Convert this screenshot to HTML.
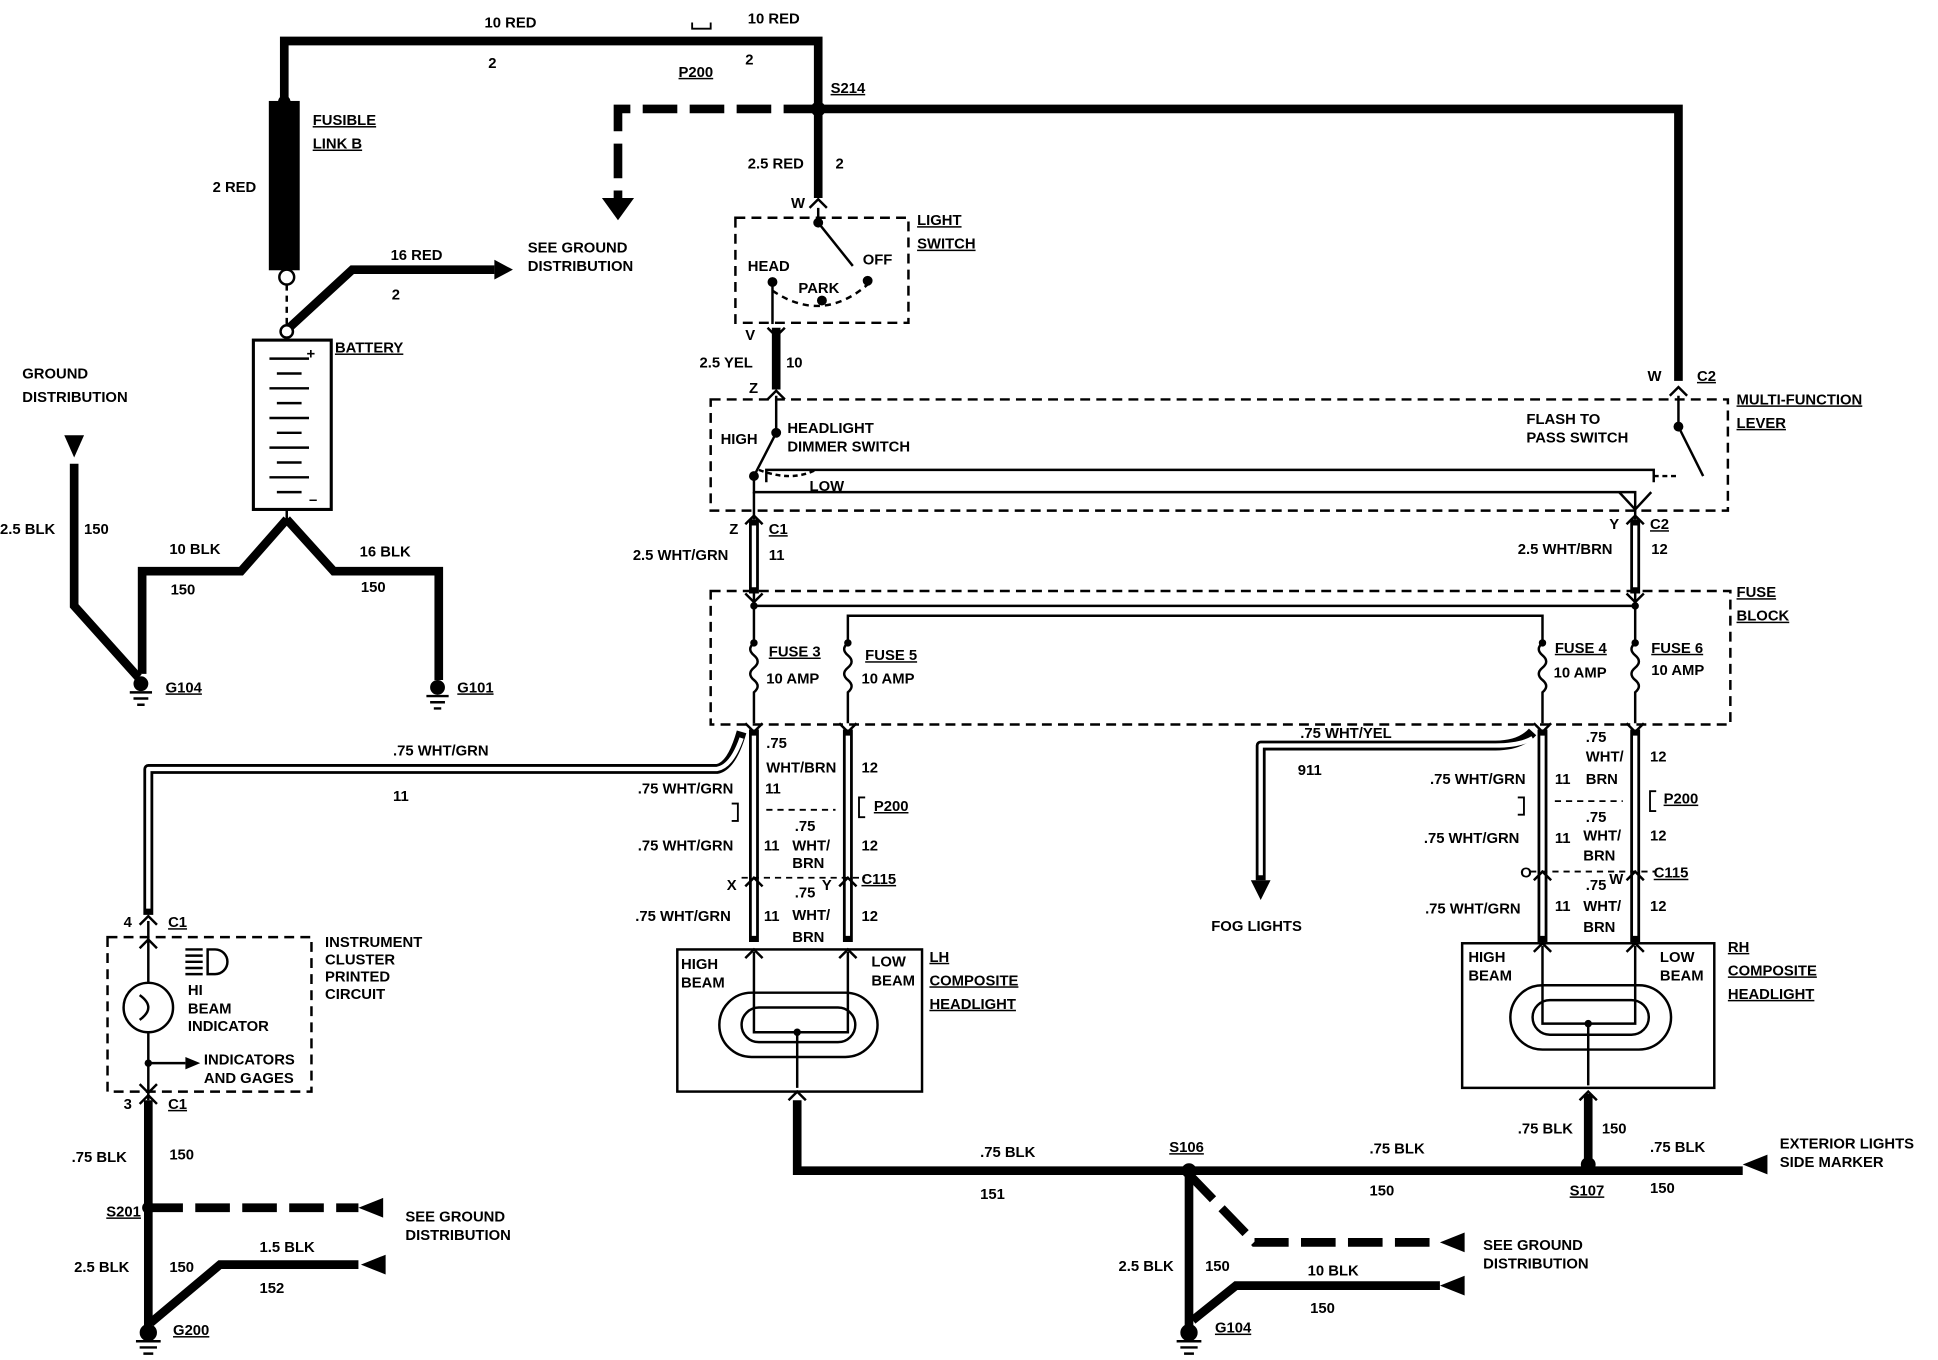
<!DOCTYPE html>
<html><head><meta charset="utf-8"><style>
html,body{margin:0;padding:0;background:#fff}
svg{display:block}
text{font-family:"Liberation Sans",sans-serif;font-weight:bold;font-size:12px;fill:#000}
.u{text-decoration:underline}
</style></head><body>
<svg width="1938" height="1360" viewBox="0 0 1568 1100" xmlns="http://www.w3.org/2000/svg">
<g fill="none" stroke="#000" stroke-width="7" stroke-linejoin="miter">
<path d="M230,82V33H662V88"/>
<path d="M662,88H1358V308"/>
<path d="M662,88V160"/>
<path d="M662,88H500V160" stroke-dasharray="28,10"/>
<rect x="221" y="85" width="18" height="130" fill="#000"/>
<path d="M234,265L285,218H400"/>
<path d="M232,420L195,462H115V545"/>
<path d="M232,420L270,462H355V550"/>
<path d="M60,375V490L112,548"/>
<path d="M628,265V315"/>
<path d="M120,890V1075"/>
<path d="M120,977H290" stroke-dasharray="28,10"/>
<path d="M122,1070L178,1023H290"/>
<path d="M645,890V947H1410"/>
<path d="M1285,885V945"/>
<path d="M962,950L1015,1005H1165" stroke-dasharray="28,10"/>
<path d="M962,950V1075"/>
<path d="M965,1068L1000,1040H1165"/>
</g>
<g fill="#000">
<path d="M487,160H513L500,178Z"/>
<path d="M400,210L415,218L400,226Z"/>
<path d="M52,352H68L60,370Z"/>
<path d="M290,977L310,969V985Z"/>
<path d="M292,1023L312,1015V1031Z"/>
<path d="M1165,1005L1185,997V1013Z"/>
<path d="M1165,1040L1185,1032V1048Z"/>
<path d="M1410,942L1430,934V950Z"/>
<circle cx="662" cy="88" r="6"/>
<circle cx="230" cy="82" r="5"/>
<circle cx="120" cy="977" r="5"/>
<circle cx="962" cy="947" r="6"/>
<circle cx="1285" cy="942" r="6"/>
</g>
<circle cx="232" cy="224" r="6" fill="#fff" stroke="#000" stroke-width="2"/>
<path d="M232,230V265" stroke="#000" stroke-width="2" stroke-dasharray="5,4"/>
<circle cx="232" cy="268" r="5" fill="#fff" stroke="#000" stroke-width="2"/>
<rect x="205" y="275" width="63" height="137" fill="#fff" stroke="#000" stroke-width="2.5"/>
<g stroke="#000" stroke-width="2">
<path d="M218,290H250M224,302H244M218,314H250M224,326H244M218,338H250M224,350H244M218,362H250M224,374H244M218,386H250M224,398H244"/>
<path d="M232,412V422"/>
</g>
<text x="248" y="290" font-size="14">+</text><text x="250" y="408" font-size="14">–</text>
<g fill="#000" stroke="#000" stroke-width="2">
<path d="M105,560h18M108,565h12M111,570h6"/><circle cx="114" cy="553" r="5"/>
<path d="M345,563h18M348,568h12M351,573h6"/><circle cx="354" cy="556" r="5"/>
<path d="M110,1085h20M113,1090h14M116,1095h8"/><circle cx="120" cy="1078" r="6"/>
<path d="M952,1085h20M955,1090h14M958,1095h8"/><circle cx="962" cy="1078" r="6"/>
</g>
<g fill="none" stroke="#000" stroke-width="2" stroke-dasharray="8,5">
<rect x="595" y="176" width="140" height="85"/>
<rect x="575" y="323" width="823" height="90"/>
<rect x="575" y="478" width="825" height="108"/>
<rect x="87" y="758" width="165" height="125"/>
</g>
<g stroke="#000" stroke-width="2" fill="none">
<path d="M662,168V180L690,215"/><circle cx="702" cy="227" r="3" fill="#000"/>
<circle cx="662" cy="180" r="3" fill="#000"/>
<path d="M625,228V262"/><circle cx="625" cy="228" r="3" fill="#000"/>
<path d="M625,235Q665,262 702,230" stroke-dasharray="5,4"/>
<circle cx="665" cy="243" r="3" fill="#000"/>
<path d="M628,320V350L610,385"/><circle cx="628" cy="350" r="3" fill="#000"/>
<path d="M610,385V398H1323V420"/>
<path d="M610,398V420"/>
<path d="M620,390V380H1338V390"/>
<circle cx="610" cy="385" r="3" fill="#000"/>
<path d="M1358,320V345L1378,385"/><circle cx="1358" cy="345" r="3" fill="#000"/>
<path d="M1338,385L1358,385" stroke-dasharray="4,3"/>
<path d="M1310,398L1323,412L1336,398"/>
<path d="M614,380Q640,390 660,380" stroke-dasharray="4,3"/>
<path d="M610,480V520"/><path d="M610,490H1323"/>
<path d="M686,520V498H1248V520"/><path d="M1323,480V520"/>
<path d="M610,520q-6,5 0,10q6,5 0,10q-6,5 0,10q6,5 0,10V585"/>
<path d="M686,520q-6,5 0,10q6,5 0,10q-6,5 0,10q6,5 0,10V585"/>
<path d="M1248,520q-6,5 0,10q6,5 0,10q-6,5 0,10q6,5 0,10V585"/>
<path d="M1323,520q-6,5 0,10q6,5 0,10q-6,5 0,10q6,5 0,10V585"/>
</g>
<g fill="#000"><circle cx="610" cy="490" r="3"/><circle cx="1323" cy="490" r="3"/><circle cx="610" cy="520" r="3"/><circle cx="686" cy="520" r="3"/><circle cx="1248" cy="520" r="3"/><circle cx="1323" cy="520" r="3"/></g>
<g fill="none" stroke-linejoin="round">
<g stroke="#000" stroke-width="8">
<path d="M610,420V480"/><path d="M1323,420V480"/>
<path d="M610,590V762"/><path d="M686,590V762"/>
<path d="M1248,590V762"/><path d="M1323,590V762"/>
<path d="M600,592Q592,620 580,622H120V740"/>
<path d="M1240,592Q1230,603 1210,603H1020V712"/>
</g>
<g stroke="#fff" stroke-width="3.5">
<path d="M610,425V475"/><path d="M1323,425V475"/>
<path d="M610,595V757"/><path d="M686,595V757"/>
<path d="M1248,595V757"/><path d="M1323,595V757"/>
<path d="M600,597Q592,620 580,622H120V735"/>
<path d="M1240,597Q1230,603 1210,603H1020V708"/>
</g>
</g>
<path d="M1012,712H1028L1020,728Z" fill="#000"/>
<g stroke="#000" stroke-width="1.5" fill="none" stroke-dasharray="5,4">
<path d="M620,655H676"/><path d="M1258,648H1313"/>
<path d="M600,710H700"/><path d="M1238,705H1340"/>
</g>
<rect x="548" y="768" width="198" height="115" fill="none" stroke="#000" stroke-width="2"/>
<rect x="1183" y="763" width="204" height="117" fill="none" stroke="#000" stroke-width="2"/>
<g fill="none" stroke="#000" stroke-width="2">
<rect x="582" y="803" width="128" height="52" rx="26"/>
<rect x="600" y="815" width="92" height="28" rx="14"/>
<path d="M610,770V835H645V880M686,770V835H645"/>
<rect x="1222" y="797" width="130" height="52" rx="26"/>
<rect x="1240" y="809" width="94" height="28" rx="14"/>
<path d="M1248,765V828H1285V878M1323,765V828H1285"/>
<path d="M120,745V795M120,835V890M120,860H150"/>
<circle cx="120" cy="815" r="20"/>
<path d="M113,805q14,10 0,20" />
<path d="M168,768h6a10,10 0 0 1 0,20h-6z"/>
<path d="M150,768h14M150,773h14M150,778h14M150,783h14M150,788h14"/>
</g>
<path d="M150,855L162,860L150,865Z" fill="#000"/>
<circle cx="645" cy="835" r="3" fill="#000"/><circle cx="1285" cy="828" r="3" fill="#000"/><circle cx="120" cy="860" r="3" fill="#000"/>
<g fill="none" stroke="#000" stroke-width="2">
<path d="M655,168l7,-7l7,7M621,265l7,7l7,-7M621,323l7,-7l7,7M1351,320l7,-7l7,7M603,424l7,-7l7,7M1316,424l7,-7l7,7M603,480l7,7l7,-7M1316,480l7,7l7,-7M603,585l7,7l7,-7M679,585l7,7l7,-7M1241,585l7,7l7,-7M1316,585l7,7l7,-7M603,717l7,-7l7,7M679,717l7,-7l7,7M1241,712l7,-7l7,7M1316,712l7,-7l7,7M603,775l7,-7l7,7M679,775l7,-7l7,7M1241,770l7,-7l7,7M1316,770l7,-7l7,7M638,890l7,-7l7,7M1278,890l7,-7l7,7M113,748l7,-7l7,7M113,767l7,-7l7,7M113,893l7,-7l7,7M113,877l7,7l7,-7"/>
</g>
<text x="392" y="22">10 RED</text><text x="395" y="55">2</text>
<text x="605" y="19">10 RED</text><text x="603" y="52">2</text>
<text x="549" y="62" class="u">P200</text><path d="M560,18v5h15v-5" stroke="#000" fill="none" stroke-width="1.5"/>
<text x="672" y="75" class="u">S214</text>
<text x="253" y="101" class="u">FUSIBLE</text><text x="253" y="120" class="u">LINK B</text>
<text x="172" y="155">2 RED</text>
<text x="316" y="210">16 RED</text><text x="317" y="242">2</text>
<text x="427" y="204">SEE GROUND</text><text x="427" y="219">DISTRIBUTION</text>
<text x="605" y="136">2.5 RED</text><text x="676" y="136">2</text>
<text x="640" y="168">W</text>
<text x="742" y="182" class="u">LIGHT</text><text x="742" y="201" class="u">SWITCH</text>
<text x="605" y="219">HEAD</text><text x="698" y="214">OFF</text><text x="646" y="237">PARK</text>
<text x="603" y="275">V</text>
<text x="566" y="297">2.5 YEL</text><text x="636" y="297">10</text>
<text x="606" y="318">Z</text>
<text x="271" y="285" class="u">BATTERY</text>
<text x="18" y="306">GROUND</text><text x="18" y="325">DISTRIBUTION</text>
<text x="0" y="432">2.5 BLK</text><text x="68" y="432">150</text>
<text x="137" y="448">10 BLK</text><text x="138" y="481">150</text>
<text x="291" y="450">16 BLK</text><text x="292" y="479">150</text>
<text x="134" y="560" class="u">G104</text><text x="370" y="560" class="u">G101</text>
<text x="583" y="359">HIGH</text>
<text x="637" y="350">HEADLIGHT</text><text x="637" y="365">DIMMER SWITCH</text>
<text x="655" y="397">LOW</text>
<text x="1235" y="343">FLASH TO</text><text x="1235" y="358">PASS SWITCH</text>
<text x="1333" y="308">W</text><text x="1373" y="308" class="u">C2</text>
<text x="1405" y="327" class="u">MULTI-FUNCTION</text><text x="1405" y="346" class="u">LEVER</text>
<text x="590" y="432">Z</text><text x="622" y="432" class="u">C1</text>
<text x="512" y="453">2.5 WHT/GRN</text><text x="622" y="453">11</text>
<text x="1302" y="428">Y</text><text x="1335" y="428" class="u">C2</text>
<text x="1228" y="448">2.5 WHT/BRN</text><text x="1336" y="448">12</text>
<text x="1405" y="483" class="u">FUSE</text><text x="1405" y="502" class="u">BLOCK</text>
<text x="622" y="531" class="u">FUSE 3</text><text x="620" y="553">10 AMP</text>
<text x="700" y="534" class="u">FUSE 5</text><text x="697" y="553">10 AMP</text>
<text x="1258" y="528" class="u">FUSE 4</text><text x="1257" y="548">10 AMP</text>
<text x="1336" y="528" class="u">FUSE 6</text><text x="1336" y="546">10 AMP</text>
<text x="318" y="611">.75 WHT/GRN</text><text x="318" y="648">11</text>
<text x="620" y="605">.75</text><text x="620" y="625">WHT/BRN</text><text x="697" y="625">12</text>
<text x="516" y="642">.75 WHT/GRN</text><text x="619" y="642">11</text>
<text x="707" y="656" class="u">P200</text><path d="M700,645h-5v16h5M592,650h5v14h-5" stroke="#000" fill="none" stroke-width="1.5"/>
<text x="643" y="672">.75</text><text x="641" y="688">WHT/</text><text x="641" y="702">BRN</text>
<text x="516" y="688">.75 WHT/GRN</text><text x="618" y="688">11</text><text x="697" y="688">12</text>
<text x="588" y="720">X</text><text x="665" y="720">Y</text><text x="697" y="715" class="u">C115</text>
<text x="643" y="726">.75</text><text x="641" y="744">WHT/</text><text x="641" y="762">BRN</text>
<text x="514" y="745">.75 WHT/GRN</text><text x="618" y="745">11</text><text x="697" y="745">12</text>
<text x="551" y="784">HIGH</text><text x="551" y="799">BEAM</text>
<text x="705" y="782">LOW</text><text x="705" y="797">BEAM</text>
<text x="752" y="778" class="u">LH</text><text x="752" y="797" class="u">COMPOSITE</text><text x="752" y="816" class="u">HEADLIGHT</text>
<text x="1052" y="597">.75 WHT/YEL</text><text x="1050" y="627">911</text>
<text x="980" y="753">FOG LIGHTS</text>
<text x="1283" y="600">.75</text><text x="1283" y="616">WHT/</text><text x="1283" y="634">BRN</text><text x="1335" y="616">12</text>
<text x="1157" y="634">.75 WHT/GRN</text><text x="1258" y="634">11</text>
<text x="1346" y="650" class="u">P200</text><path d="M1340,640h-5v16h5M1228,645h5v14h-5" stroke="#000" fill="none" stroke-width="1.5"/>
<text x="1283" y="665">.75</text><text x="1281" y="680">WHT/</text><text x="1281" y="696">BRN</text>
<text x="1152" y="682">.75 WHT/GRN</text><text x="1258" y="682">11</text><text x="1335" y="680">12</text>
<text x="1230" y="710">O</text><text x="1302" y="715">W</text><text x="1338" y="710" class="u">C115</text>
<text x="1283" y="720">.75</text><text x="1281" y="737">WHT/</text><text x="1281" y="754">BRN</text>
<text x="1153" y="739">.75 WHT/GRN</text><text x="1258" y="737">11</text><text x="1335" y="737">12</text>
<text x="1188" y="778">HIGH</text><text x="1188" y="793">BEAM</text>
<text x="1343" y="778">LOW</text><text x="1343" y="793">BEAM</text>
<text x="1398" y="770" class="u">RH</text><text x="1398" y="789" class="u">COMPOSITE</text><text x="1398" y="808" class="u">HEADLIGHT</text>
<text x="100" y="750">4</text><text x="136" y="750" class="u">C1</text>
<text x="263" y="766">INSTRUMENT</text><text x="263" y="780">CLUSTER</text><text x="263" y="794">PRINTED</text><text x="263" y="808">CIRCUIT</text>
<text x="152" y="805">HI</text><text x="152" y="820">BEAM</text><text x="152" y="834">INDICATOR</text>
<text x="165" y="861">INDICATORS</text><text x="165" y="876">AND GAGES</text>
<text x="100" y="897">3</text><text x="136" y="897" class="u">C1</text>
<text x="58" y="940">.75 BLK</text><text x="137" y="938">150</text>
<text x="86" y="984" class="u">S201</text>
<text x="328" y="988">SEE GROUND</text><text x="328" y="1003">DISTRIBUTION</text>
<text x="60" y="1029">2.5 BLK</text><text x="137" y="1029">150</text>
<text x="210" y="1013">1.5 BLK</text><text x="210" y="1046">152</text>
<text x="140" y="1080" class="u">G200</text>
<text x="793" y="936">.75 BLK</text><text x="793" y="970">151</text>
<text x="946" y="932" class="u">S106</text>
<text x="1108" y="933">.75 BLK</text><text x="1108" y="967">150</text>
<text x="1228" y="917">.75 BLK</text><text x="1296" y="917">150</text>
<text x="1335" y="932">.75 BLK</text><text x="1335" y="965">150</text>
<text x="1270" y="967" class="u">S107</text>
<text x="1440" y="929">EXTERIOR LIGHTS</text><text x="1440" y="944">SIDE MARKER</text>
<text x="1200" y="1011">SEE GROUND</text><text x="1200" y="1026">DISTRIBUTION</text>
<text x="905" y="1028">2.5 BLK</text><text x="975" y="1028">150</text>
<text x="1058" y="1032">10 BLK</text><text x="1060" y="1062">150</text>
<text x="983" y="1078" class="u">G104</text>
</svg>
</body></html>
